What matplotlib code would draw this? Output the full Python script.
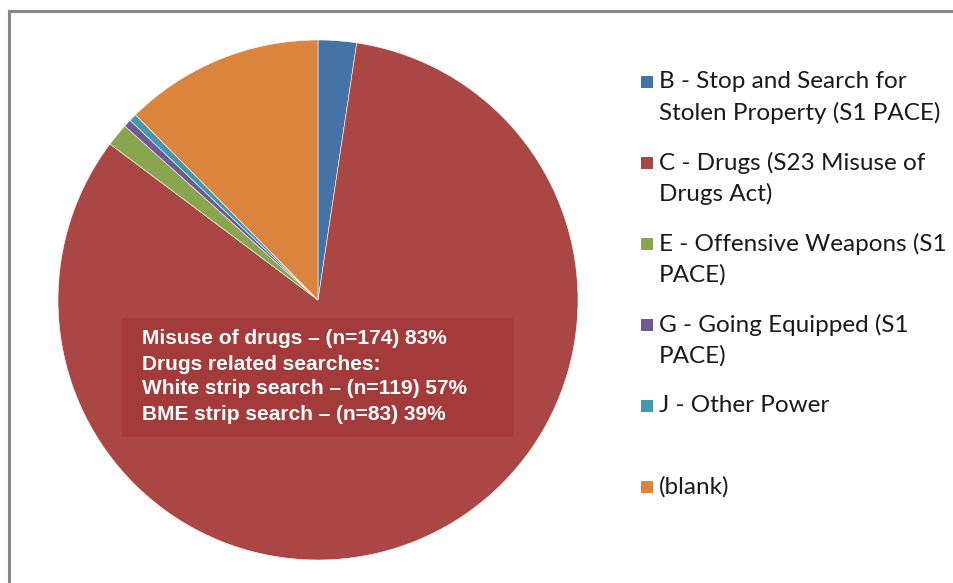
import matplotlib.pyplot as plt
from matplotlib.patches import Rectangle
from matplotlib.lines import Line2D

# stop and search counts by power
labels = ['B - Stop and Search for\nStolen Property (S1 PACE)',
          'C - Drugs (S23 Misuse of\nDrugs Act)',
          'E - Offensive Weapons (S1\nPACE)',
          'G - Going Equipped (S1\nPACE)',
          'J - Other Power',
          '(blank)']
counts = [5, 174, 3, 1, 1, 26]
colors = ['#4572A7', '#AA4643', '#89A54E', '#71588F', '#4198AF', '#DB843D']

note_lines = ['Misuse of drugs \u2013 (n=174) 83%',
              'Drugs related searches:',
              'White strip search \u2013 (n=119) 57%',
              'BME strip search \u2013 (n=83) 39%']

W, H = 954, 583
fig = plt.figure(figsize=(W / 100, H / 100), dpi=100)


def fx(px):
    return px / W


def fy(py):
    return 1 - py / H


# pie centred at (318, 300) px, radius 260 px
r = 260
ax = fig.add_axes([fx(318 - r), fy(300 + r), 2 * r / W, 2 * r / H])
ax.pie(counts, colors=colors, startangle=90, counterclock=False, radius=1,
       wedgeprops=dict(edgecolor='white', linewidth=0.4))
ax.set_xlim(-1, 1)
ax.set_ylim(-1, 1)
ax.set_aspect('auto')
ax.axis('off')

# chart frame (top and left edges)
fig.add_artist(Line2D([fx(9), fx(9)], [fy(11), 0], color='#878787', lw=2.2))
fig.add_artist(Line2D([fx(9), 1], [fy(11), fy(11)], color='#878787', lw=2.2))

# note box on the drugs slice
fig.add_artist(Rectangle((fx(122), fy(437)), fx(513 - 122), (437 - 318) / H,
                         facecolor='#A33B3A', edgecolor='none'))
for i, line in enumerate(note_lines):
    fig.text(fx(142), fy(339 + i * 25), line, color='white', fontsize=15,
             fontweight='bold', family='Liberation Sans', va='center')

# legend, one slot of two lines per entry
for i, (lab, c) in enumerate(zip(labels, colors)):
    y0 = 82 + i * 81
    fig.add_artist(Rectangle((fx(641), fy(y0 + 6)), fx(12), 12 / H,
                             facecolor=c, edgecolor='none'))
    for j, part in enumerate(lab.split('\n')):
        fig.text(fx(659), fy(y0 + 31 * j), part, fontsize=17.5, family='Lato',
                 color='#1a1a1a', va='center')

fig.savefig('out.png', dpi=100)
